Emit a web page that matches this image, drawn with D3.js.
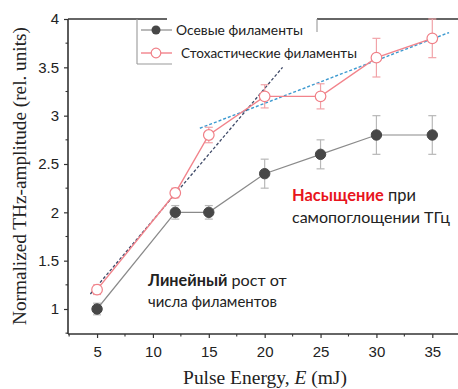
<!DOCTYPE html>
<html>
<head>
<meta charset="utf-8">
<script src="https://cdn.jsdelivr.net/npm/d3@7"></script>
<style>
  html, body { margin: 0; padding: 0; background: #fff; }
  svg { display: block; }
</style>
</head>
<body>
<svg id="chart" width="458" height="389"></svg>
<script>
// Pulse energy (mJ)
const energy = [5, 12, 15, 20, 25, 30, 35];
// Axial filaments
const axial = [1.0, 2.0, 2.0, 2.4, 2.6, 2.8, 2.8];
const axialErr = [0.06, 0.07, 0.07, 0.15, 0.15, 0.2, 0.2];
// Stochastic filaments
const stochastic = [1.2, 2.2, 2.8, 3.2, 3.2, 3.6, 3.8];
const stochasticErr = [0.05, 0.05, 0.08, 0.12, 0.13, 0.2, 0.2];
// Guide lines: linear growth and saturation
const linearFit = [[4.4, 1.155], [21.6, 3.5]];
const saturationFit = [[14.2, 2.87], [36.5, 3.86]];
// Ticks
const xTicks = [5, 10, 15, 20, 25, 30, 35];
const yTicks = [1, 1.5, 2, 2.5, 3, 3.5, 4];
const seriesNames = ["Осевые филаменты", "Стохастические филаменты"];

const svg = d3.select("#chart");
const W = 458;
const x = d3.scaleLinear().domain([2.4, 37.3]).range([68, 458]);
const y = d3.scaleLinear().domain([1, 4]).range([309, 19]);
const yBottom = 334;

function fit(sel, width) {
  const n = sel.node();
  const fs = parseFloat(sel.attr("font-size"));
  const w = n.getComputedTextLength();
  if (w > 0) sel.attr("font-size", (fs * width / w).toFixed(2));
  return sel;
}

const axisColor = "#333";
const sansTick = "'Liberation Sans', Arial, sans-serif";
const textFont = "Lato, 'Open Sans', sans-serif";

// Axes frame
const g = svg.append("g");
g.append("line").attr("x1", 68).attr("x2", W).attr("y1", yBottom).attr("y2", yBottom)
  .attr("stroke", axisColor).attr("stroke-width", 1.6);
g.append("line").attr("x1", 68).attr("x2", 68).attr("y1", 19).attr("y2", yBottom)
  .attr("stroke", axisColor).attr("stroke-width", 1.6);
// top border, broken by the legend
g.append("line").attr("x1", 68).attr("x2", 167).attr("y1", 19).attr("y2", 19)
  .attr("stroke", axisColor).attr("stroke-width", 1.6);
g.append("line").attr("x1", 317).attr("x2", W).attr("y1", 19).attr("y2", 19)
  .attr("stroke", axisColor).attr("stroke-width", 1.6);

// X axis ticks
const xAxis = d3.axisBottom(x).tickValues(xTicks).tickSize(4).tickSizeOuter(0).tickFormat(d3.format("d"));
const xg = svg.append("g").attr("transform", `translate(0,${yBottom})`).call(xAxis);
xg.select(".domain").remove();
xg.selectAll(".tick line").attr("stroke", axisColor).attr("stroke-width", 1.2);
xg.selectAll(".tick text").attr("font-family", sansTick).attr("font-size", 15)
  .attr("fill", "#222").attr("dy", "0.71em").attr("y", 12);
const xMinor = d3.range(2.5, 37.5, 2.5).filter(v => v % 5 !== 0);
svg.append("g").selectAll("line").data(xMinor).join("line")
  .attr("x1", d => x(d)).attr("x2", d => x(d)).attr("y1", yBottom).attr("y2", yBottom + 2.5)
  .attr("stroke", axisColor).attr("stroke-width", 1.1);

// Y axis ticks
const yAxis = d3.axisLeft(y).tickValues(yTicks).tickSize(4).tickSizeOuter(0).tickFormat(d3.format("~g"));
const yg = svg.append("g").attr("transform", "translate(68,0)").call(yAxis);
yg.select(".domain").remove();
yg.selectAll(".tick line").attr("stroke", axisColor).attr("stroke-width", 1.2);
yg.selectAll(".tick text").attr("font-family", sansTick).attr("font-size", 15)
  .attr("fill", "#222").attr("x", -9);
const yMinor = d3.range(0.75, 4, 0.5);
svg.append("g").selectAll("line").data(yMinor).join("line")
  .attr("x1", 68).attr("x2", 65.5).attr("y1", d => y(d)).attr("y2", d => y(d))
  .attr("stroke", axisColor).attr("stroke-width", 1.1);

// Axis titles
const yl = svg.append("text")
  .attr("transform", "translate(26,176) rotate(-90)")
  .attr("text-anchor", "middle")
  .attr("font-family", "'Liberation Serif', 'Times New Roman', serif")
  .attr("font-size", 17).attr("fill", "#222")
  .text("Normalized THz-amplitude (rel. units)");
fit(yl, 298);

const xl = svg.append("text")
  .attr("x", 265).attr("y", 384).attr("text-anchor", "middle")
  .attr("font-family", "'Liberation Serif', 'Times New Roman', serif")
  .attr("font-size", 17).attr("fill", "#222");
xl.append("tspan").text("Pulse Energy, ");
xl.append("tspan").attr("font-style", "italic").text("E");
xl.append("tspan").text(" (mJ)");
fit(xl, 164);

// Guide lines
const line = d3.line().x(d => x(d[0])).y(d => y(d[1]));
svg.append("path").attr("d", line(saturationFit)).attr("fill", "none")
  .attr("stroke", "#3d9ad0").attr("stroke-width", 1.4).attr("stroke-dasharray", "3,2");
svg.append("path").attr("d", line(linearFit)).attr("fill", "none")
  .attr("stroke", "#3f4a68").attr("stroke-width", 1.3).attr("stroke-dasharray", "3,2");

// Series
function drawSeries(vals, errs, opt) {
  const pts = energy.map((e, i) => ({ e, v: vals[i], err: errs[i] }));
  const gg = svg.append("g");
  // error bars
  const eb = gg.append("g").attr("stroke", opt.errColor).attr("stroke-width", 1.2);
  pts.forEach(p => {
    eb.append("line").attr("x1", x(p.e)).attr("x2", x(p.e)).attr("y1", y(p.v - p.err)).attr("y2", y(p.v + p.err));
    eb.append("line").attr("x1", x(p.e) - 4).attr("x2", x(p.e) + 4).attr("y1", y(p.v - p.err)).attr("y2", y(p.v - p.err));
    eb.append("line").attr("x1", x(p.e) - 4).attr("x2", x(p.e) + 4).attr("y1", y(p.v + p.err)).attr("y2", y(p.v + p.err));
  });
  gg.append("path").attr("d", d3.line().x(p => x(p.e)).y(p => y(p.v))(pts))
    .attr("fill", "none").attr("stroke", opt.lineColor).attr("stroke-width", opt.lineWidth);
  gg.selectAll("circle").data(pts).join("circle")
    .attr("cx", p => x(p.e)).attr("cy", p => y(p.v)).attr("r", opt.r)
    .attr("fill", opt.fill).attr("stroke", opt.stroke).attr("stroke-width", opt.sw);
}
drawSeries(axial, axialErr, { errColor: "#b8b8b8", lineColor: "#8a8a8a", lineWidth: 1.2, r: 5.2, fill: "#474747", stroke: "#474747", sw: 1 });
drawSeries(stochastic, stochasticErr, { errColor: "#f1a3a8", lineColor: "#f2838b", lineWidth: 1.4, r: 5.3, fill: "#fff", stroke: "#f08088", sw: 1.2 });

// Legend
const lg = svg.append("g");
lg.append("rect").attr("x", 137).attr("y", 20).attr("width", 180).attr("height", 44).attr("fill", "#fff");
lg.append("line").attr("x1", 137).attr("x2", 137).attr("y1", 19).attr("y2", 64).attr("stroke", "#999").attr("stroke-width", 1.1);
lg.append("line").attr("x1", 137).attr("x2", 172).attr("y1", 64).attr("y2", 64).attr("stroke", "#999").attr("stroke-width", 1.1);
lg.append("line").attr("x1", 317).attr("x2", 317).attr("y1", 19).attr("y2", 32).attr("stroke", "#999").attr("stroke-width", 1.1);

lg.append("line").attr("x1", 141).attr("x2", 172).attr("y1", 30).attr("y2", 30).attr("stroke", "#8a8a8a").attr("stroke-width", 1.2);
lg.append("circle").attr("cx", 156).attr("cy", 30).attr("r", 4.5).attr("fill", "#474747");
lg.append("line").attr("x1", 141).attr("x2", 172).attr("y1", 53).attr("y2", 53).attr("stroke", "#f2838b").attr("stroke-width", 1.4);
lg.append("circle").attr("cx", 156).attr("cy", 53).attr("r", 4.8).attr("fill", "#fff").attr("stroke", "#f08088").attr("stroke-width", 1.2);

const t1 = lg.append("text").attr("x", 176).attr("y", 34.5).attr("font-family", textFont)
  .attr("font-size", 12).attr("fill", "#222").text(seriesNames[0]);
fit(t1, 127);
const t2 = lg.append("text").attr("x", 181).attr("y", 57.5).attr("font-family", textFont)
  .attr("font-size", 12).attr("fill", "#222").text(seriesNames[1]);
fit(t2, 176);

// Annotations
const a1 = svg.append("text").attr("x", 292).attr("y", 201).attr("font-family", textFont)
  .attr("font-size", 15).attr("fill", "#222");
a1.append("tspan").attr("font-weight", "bold").attr("fill", "#e8141c").text("Насыщение");
a1.append("tspan").text(" при");
fit(a1, 124);
const a2 = svg.append("text").attr("x", 292).attr("y", 223).attr("font-family", textFont)
  .attr("font-size", 15).attr("fill", "#222").text("самопоглощении ТГц");
fit(a2, 158);

const b1 = svg.append("text").attr("x", 148).attr("y", 286).attr("font-family", textFont)
  .attr("font-size", 15).attr("fill", "#222");
b1.append("tspan").attr("font-weight", "bold").text("Линейный");
b1.append("tspan").text(" рост от");
fit(b1, 139);
const b2 = svg.append("text").attr("x", 148).attr("y", 307).attr("font-family", textFont)
  .attr("font-size", 15).attr("fill", "#222").text("числа филаментов");
fit(b2, 129);
</script>
</body>
</html>
